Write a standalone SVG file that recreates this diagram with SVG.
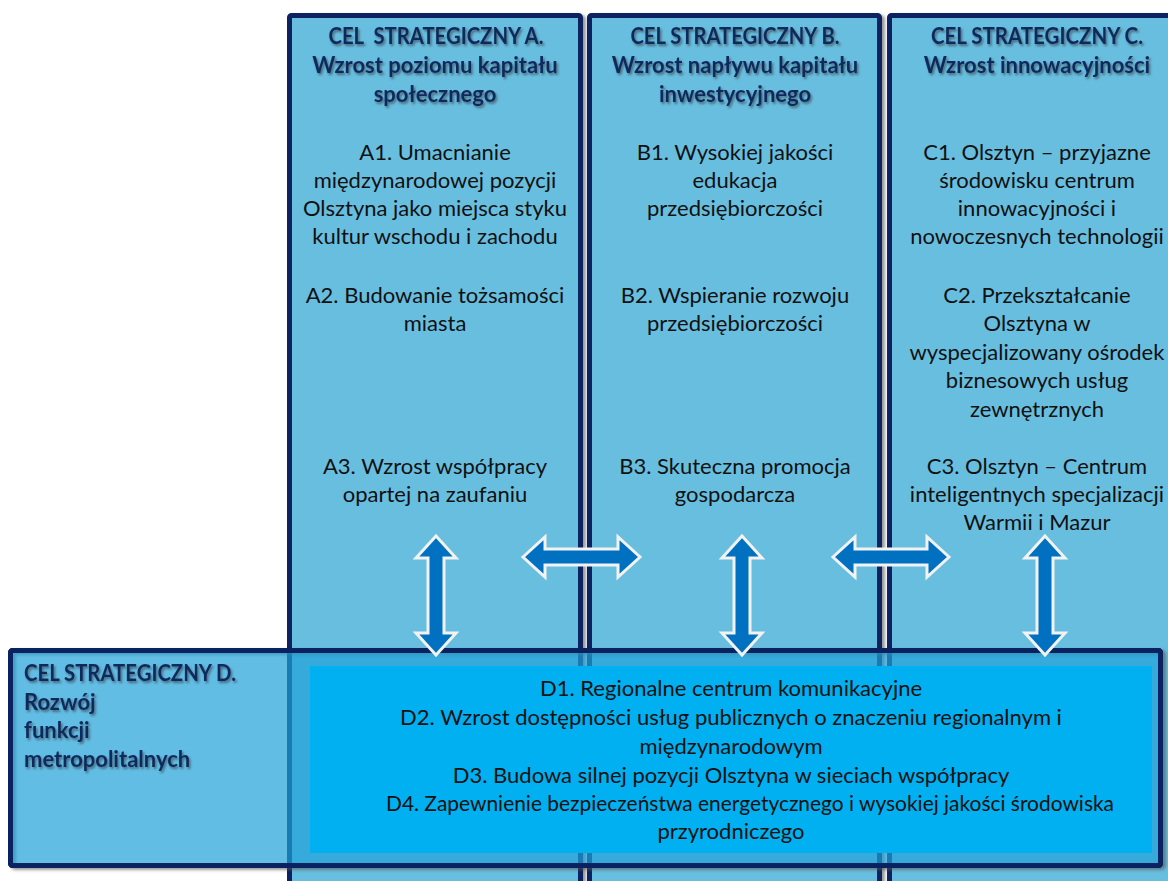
<svg xmlns="http://www.w3.org/2000/svg" width="1168" height="881" viewBox="0 0 1168 881">
<defs>
<style>
.col{fill:#67bedf;stroke:#0b2260;stroke-width:5}
.hd{font-family:Lato,"Liberation Sans",sans-serif;font-weight:bold;font-size:22px;fill:#112b5e;text-anchor:middle}
.hdl{font-family:Lato,"Liberation Sans",sans-serif;font-weight:bold;font-size:22px;fill:#112b5e}
.tx{font-family:Lato,"Liberation Sans",sans-serif;font-size:22px;fill:#111;text-anchor:middle}
.arr{fill:#0070c0;stroke:#f2f2f2;stroke-width:3;stroke-linejoin:miter}
</style>
<filter id="sh" x="-5%" y="-5%" width="115%" height="115%">
<feDropShadow dx="3" dy="2" stdDeviation="1.5" flood-color="#555" flood-opacity="0.6"/>
</filter>
<filter id="ts" x="-5%" y="-20%" width="115%" height="150%">
<feDropShadow dx="1.5" dy="2" stdDeviation="1.2" flood-color="#333" flood-opacity="0.6"/>
</filter>
</defs>
<rect width="1168" height="881" fill="#fff"/>

<g id="colA">
<rect class="col" x="289.5" y="15.5" width="291" height="900" rx="2" filter="url(#sh)"/>
<g class="hd" filter="url(#ts)">
<text x="436" y="44" xml:space="preserve" textLength="215" lengthAdjust="spacingAndGlyphs">CEL  STRATEGICZNY A.</text>
<text x="435" y="73">Wzrost poziomu kapitału</text>
<text x="435" y="102">społecznego</text>
</g>
<g class="tx">
<text x="435" y="160">A1. Umacnianie</text>
<text x="435" y="188">międzynarodowej pozycji</text>
<text x="435" y="216">Olsztyna jako miejsca styku</text>
<text x="435" y="244">kultur wschodu i zachodu</text>
<text x="435" y="303">A2. Budowanie tożsamości</text>
<text x="435" y="331">miasta</text>
<text x="435" y="474">A3. Wzrost współpracy</text>
<text x="435" y="502">opartej na zaufaniu</text>
</g>
</g>

<g id="colB">
<rect class="col" x="589.5" y="15.5" width="290" height="900" rx="2" filter="url(#sh)"/>
<g class="hd" filter="url(#ts)">
<text x="735" y="44" textLength="209" lengthAdjust="spacingAndGlyphs">CEL STRATEGICZNY B.</text>
<text x="735" y="73">Wzrost napływu kapitału</text>
<text x="735" y="102">inwestycyjnego</text>
</g>
<g class="tx">
<text x="735" y="160">B1. Wysokiej jakości</text>
<text x="735" y="188">edukacja</text>
<text x="735" y="216">przedsiębiorczości</text>
<text x="735" y="303">B2. Wspieranie rozwoju</text>
<text x="735" y="331">przedsiębiorczości</text>
<text x="735" y="474">B3. Skuteczna promocja</text>
<text x="735" y="502">gospodarcza</text>
</g>
</g>

<g id="colC">
<rect class="col" x="889.5" y="15.5" width="300" height="900" rx="2" filter="url(#sh)"/>
<g class="hd" filter="url(#ts)">
<text x="1037" y="44" textLength="212" lengthAdjust="spacingAndGlyphs">CEL STRATEGICZNY C.</text>
<text x="1037" y="73">Wzrost innowacyjności</text>
</g>
<g class="tx">
<text x="1037" y="160">C1. Olsztyn – przyjazne</text>
<text x="1037" y="188">środowisku centrum</text>
<text x="1037" y="216">innowacyjności i</text>
<text x="1037" y="244">nowoczesnych technologii</text>
<text x="1037" y="303">C2. Przekształcanie</text>
<text x="1037" y="331">Olsztyna w</text>
<text x="1037" y="360">wyspecjalizowany ośrodek</text>
<text x="1037" y="388">biznesowych usług</text>
<text x="1037" y="417">zewnętrznych</text>
<text x="1037" y="474">C3. Olsztyn – Centrum</text>
<text x="1037" y="502">inteligentnych specjalizacji</text>
<text x="1037" y="530">Warmii i Mazur</text>
</g>
</g>

<g id="colD">
<rect x="10.5" y="650.5" width="1150" height="215" rx="2" fill="none" stroke="#0b2260" stroke-width="5" filter="url(#sh)"/>
<rect x="10.5" y="650.5" width="1150" height="215" rx="2" fill="#20a1d9" fill-opacity="0.7" stroke="#0b2260" stroke-width="5"/>
<rect x="310" y="666" width="842" height="187" fill="#00b0f0"/>
<g class="hdl" filter="url(#ts)">
<text x="24" y="681" textLength="212" lengthAdjust="spacingAndGlyphs">CEL STRATEGICZNY D.</text>
<text x="24" y="710">Rozwój</text>
<text x="24" y="738">funkcji</text>
<text x="24" y="767">metropolitalnych</text>
</g>
<g class="tx">
<text x="731" y="696">D1. Regionalne centrum komunikacyjne</text>
<text x="731" y="725">D2. Wzrost dostępności usług publicznych o znaczeniu regionalnym i</text>
<text x="731" y="754">międzynarodowym</text>
<text x="731" y="783">D3. Budowa silnej pozycji Olsztyna w sieciach współpracy</text>
<text x="750" y="811" textLength="728" lengthAdjust="spacingAndGlyphs">D4. Zapewnienie bezpieczeństwa energetycznego i wysokiej jakości środowiska</text>
<text x="731" y="839">przyrodniczego</text>
</g>
</g>

<g id="connectors">
<path class="arr" d="M436,536 L456,558 L444,558 L444,633 L456,633 L436,655 L416,633 L428,633 L428,558 L416,558 Z"/>
<path class="arr" d="M742,536 L762,558 L750,558 L750,633 L762,633 L742,655 L722,633 L734,633 L734,558 L722,558 Z"/>
<path class="arr" d="M1045,536 L1065,558 L1053,558 L1053,633 L1065,633 L1045,655 L1025,633 L1037,633 L1037,558 L1025,558 Z"/>
<path class="arr" d="M523,557 L545,537 L545,549 L618,549 L618,537 L640,557 L618,577 L618,565 L545,565 L545,577 Z"/>
<path class="arr" d="M833,557 L855,537 L855,549 L927,549 L927,537 L949,557 L927,577 L927,565 L855,565 L855,577 Z"/>
</g>
</svg>
